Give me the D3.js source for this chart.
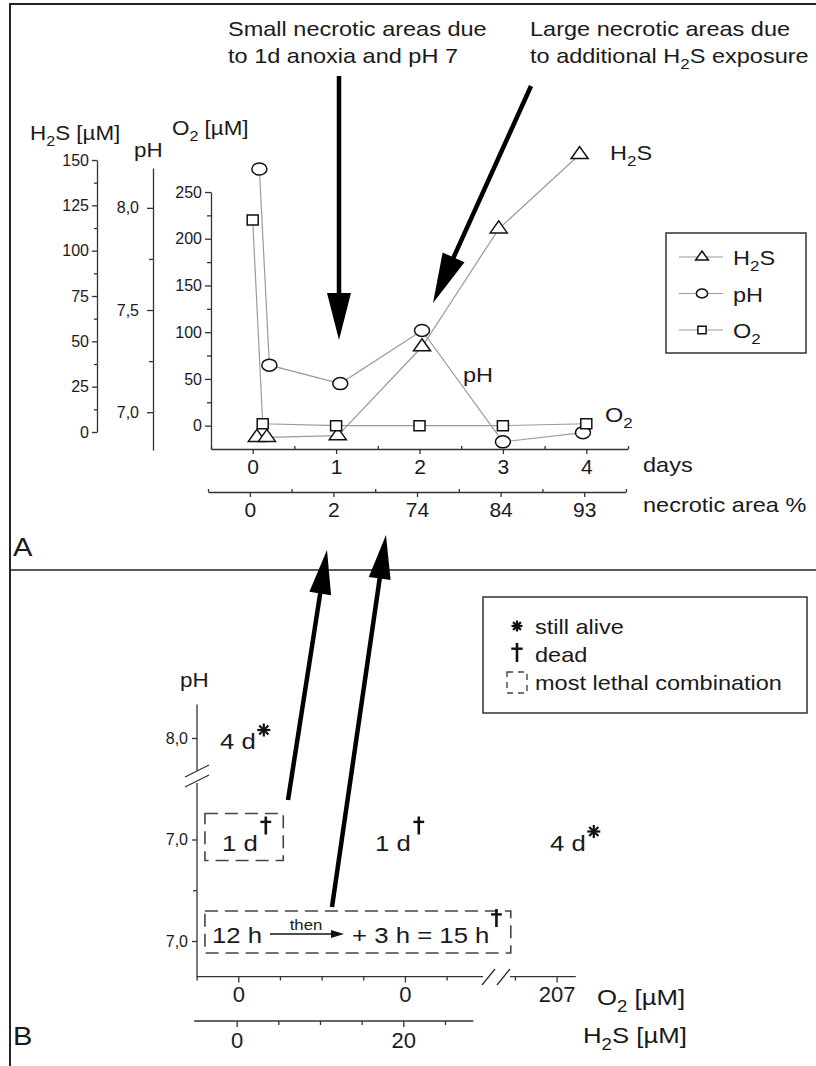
<!DOCTYPE html>
<html>
<head>
<meta charset="utf-8">
<script src="https://cdn.jsdelivr.net/npm/d3@7"></script>
<style>
body { margin: 0; background: #fff; }
svg text { font-family: Arial, "Liberation Sans", Helvetica, sans-serif; fill: #1a1a1a; }
</style>
</head>
<body>
<svg id="fig" width="816" height="1066"></svg>
<script>
/* ---------- panel A data ---------- */
var dayTicks = [0, 1, 2, 3, 4];
var necroticArea = ["0", "2", "74", "84", "93"];

var h2sDays = [0.05, 0.17, 1.02, 2.03, 2.95, 3.92];
var h2sVals = [-3, -3, -2, 47, 112, 153];

var phDays = [0.08, 0.2, 1.05, 2.03, 3.0, 3.96];
var phVals = [8.19, 7.23, 7.14, 7.40, 6.855, 6.90];

var o2Days = [0, 0.12, 1, 2, 3, 4];
var o2Vals = [220, 2, 0, 0, 0, 2];

/* ---------- panel B data ---------- */
var phRows = ["8,0", "7,0", "7,0"];
var o2Labels = ["0", "0", "207"];
var h2sLabels = ["0", "20"];
var colSlot = [0, 20, 38.2];          // column position on the (broken) x axis
var cellRow = [0, 1, 1, 1];
var cellCol = [0, 0, 1, 2];
var cellText = ["4 d", "1 d", "1 d", "4 d"];
var cellMark = ["alive", "dead", "dead", "alive"];

var svg = d3.select("#fig");
var SX = 1.12;   // the figure's lettering is slightly wide
var INK = "#1a1a1a";

function label(parent, x, y, parts, size, anchor, sx) {
    var t = parent.append("text")
        .attr("transform", "translate(" + x + "," + y + ") scale(" + (sx || SX) + ",1)")
        .attr("font-size", size)
        .attr("text-anchor", anchor || "start");
    if (typeof parts === "string") parts = [[parts]];
    var shift = 0;
    parts.forEach(function(p) {
        var ts = t.append("tspan").text(p[0]);
        var want = p[1] === "sub" ? size * 0.3 : 0;
        if (p[1] === "sub") ts.attr("font-size", size * 0.72);
        if (want !== shift) { ts.attr("dy", want - shift); shift = want; }
    });
    return t;
}
function textWidth(t) { return t.node().getComputedTextLength() * SX; }

function styleAxis(g, size) {
    g.attr("font-family", null).attr("font-size", size);
    g.selectAll("path.domain, line").attr("stroke", "#333").attr("stroke-width", 1.3);
    g.selectAll("text").attr("fill", INK);
}

function marker(g, kind, x, y, s) {
    var d;
    if (kind === "tri") d = "M" + x + "," + (y - 8 * s) + "L" + (x + 8.5 * s) + "," + (y + 4 * s) + "L" + (x - 8.5 * s) + "," + (y + 4 * s) + "Z";
    if (kind === "sq") d = "M" + (x - 5.5 * s) + "," + (y - 5 * s) + "h" + (11 * s) + "v" + (10 * s) + "h" + (-11 * s) + "Z";
    if (kind === "circ") {
        g.append("ellipse").attr("cx", x).attr("cy", y).attr("rx", 7.5 * s).attr("ry", 6 * s)
            .attr("fill", "#fff").attr("stroke", "#111").attr("stroke-width", 1.5);
        return;
    }
    g.append("path").attr("d", d).attr("fill", "#fff").attr("stroke", "#111").attr("stroke-width", 1.5);
}

function star(g, cx, cy, r) {
    for (var k = 0; k < 4; k++) {
        var a = k * Math.PI / 4;
        g.append("line")
            .attr("x1", cx - r * Math.cos(a)).attr("y1", cy - r * Math.sin(a))
            .attr("x2", cx + r * Math.cos(a)).attr("y2", cy + r * Math.sin(a))
            .attr("stroke", "#111").attr("stroke-width", 2.2);
    }
}
function dagger(g, cx, top, h) {
    g.append("line").attr("x1", cx).attr("y1", top).attr("x2", cx).attr("y2", top + h)
        .attr("stroke", "#111").attr("stroke-width", 2.6);
    g.append("line").attr("x1", cx - h * 0.3).attr("y1", top + h * 0.3).attr("x2", cx + h * 0.3).attr("y2", top + h * 0.3)
        .attr("stroke", "#111").attr("stroke-width", 2.4);
}

function arrow(x1, y1, x2, y2, len, half, w) {
    var dx = x2 - x1, dy = y2 - y1, L = Math.hypot(dx, dy), ux = dx / L, uy = dy / L;
    var bx = x2 - ux * len, by = y2 - uy * len;
    svg.append("line").attr("x1", x1).attr("y1", y1).attr("x2", bx + ux * 3).attr("y2", by + uy * 3)
        .attr("stroke", "#000").attr("stroke-width", w);
    svg.append("path")
        .attr("d", "M" + x2 + "," + y2 + "L" + (bx - uy * half) + "," + (by + ux * half) + "L" + (bx + uy * half) + "," + (by - ux * half) + "Z")
        .attr("fill", "#000");
}

/* ---------- frame ---------- */
svg.append("path").attr("d", "M10,1066V4H816").attr("fill", "none").attr("stroke", "#222").attr("stroke-width", 2);
svg.append("line").attr("x1", 10).attr("x2", 816).attr("y1", 570).attr("y2", 570).attr("stroke", "#222").attr("stroke-width", 1.6);

/* ================= PANEL A ================= */
var gA = svg.append("g");

var xDays = d3.scaleLinear().domain([-0.5, 4.5]).range([211, 628]);
var xNec = d3.scaleLinear().domain([-0.5, 4.5]).range([208, 626]);
var yO2 = d3.scaleLinear().domain([-25, 250]).range([449, 192]);
var yPH = d3.scaleLinear().domain([6.815, 8.195]).range([450, 168]);
var yH2S = d3.scaleLinear().domain([0, 150]).range([432, 160]);

// H2S axis
gA.append("g").attr("transform", "translate(97,0)")
    .call(d3.axisLeft(yH2S).tickValues(d3.range(0, 151, 25)).tickSize(5).tickSizeOuter(0).tickPadding(3))
    .call(styleAxis, 16);
gA.append("g").attr("transform", "translate(97,0)")
    .call(d3.axisLeft(yH2S).tickValues(d3.range(12.5, 150, 25)).tickSize(3).tickFormat(""))
    .call(function(g) { g.select(".domain").remove(); })
    .call(styleAxis, 16);

// pH axis
gA.append("g").attr("transform", "translate(153,0)")
    .call(d3.axisLeft(yPH).tickValues([7.0, 7.5, 8.0]).tickSize(6).tickSizeOuter(0).tickPadding(8)
        .tickFormat(function(d) { return d3.format(".1f")(d).replace(".", ","); }))
    .call(styleAxis, 16);
gA.append("g").attr("transform", "translate(153,0)")
    .call(d3.axisLeft(yPH).tickValues([7.25, 7.75]).tickSize(4).tickFormat(""))
    .call(function(g) { g.select(".domain").remove(); })
    .call(styleAxis, 16);

// O2 axis
gA.append("g").attr("transform", "translate(211,0)")
    .call(d3.axisLeft(yO2).tickValues(d3.range(0, 251, 50)).tickSize(6).tickSizeOuter(0).tickPadding(3))
    .call(styleAxis, 16);
gA.append("g").attr("transform", "translate(211,0)")
    .call(d3.axisLeft(yO2).tickValues(d3.range(25, 250, 50)).tickSize(4).tickFormat(""))
    .call(function(g) { g.select(".domain").remove(); })
    .call(styleAxis, 16);

// days axis
gA.append("g").attr("transform", "translate(0,449)")
    .call(d3.axisBottom(xDays).tickValues(dayTicks).tickSize(5).tickSizeOuter(0).tickPadding(5)
        .tickFormat(d3.format("d")))
    .call(styleAxis, 21);
gA.append("g").attr("transform", "translate(0,449)")
    .call(d3.axisTop(xDays).tickValues(d3.range(-0.5, 4.6, 1)).tickSize(3).tickFormat(""))
    .call(function(g) { g.select(".domain").remove(); })
    .call(styleAxis, 21);

// necrotic area axis
gA.append("g").attr("transform", "translate(0,492)")
    .call(d3.axisBottom(xNec).tickValues(dayTicks).tickSize(5).tickSizeOuter(0).tickPadding(5)
        .tickFormat(function(i) { return necroticArea[i]; }))
    .call(styleAxis, 21);
gA.append("g").attr("transform", "translate(0,492)")
    .call(d3.axisTop(xNec).tickValues(d3.range(-0.5, 4.6, 1)).tickSize(3).tickFormat(""))
    .call(function(g) { g.select(".domain").remove(); })
    .call(styleAxis, 21);

// axis titles
label(gA, 30, 140, [["H"], ["2", "sub"], ["S [µM]"]], 20);
label(gA, 134, 157, "pH", 20);
label(gA, 172, 135, [["O"], ["2", "sub"], [" [µM]"]], 20);
label(gA, 643, 472, "days", 21);
label(gA, 643, 512, "necrotic area %", 21);

// series
var series = [
    { name: "H2S", days: h2sDays, vals: h2sVals, y: yH2S, kind: "tri" },
    { name: "pH", days: phDays, vals: phVals, y: yPH, kind: "circ" },
    { name: "O2", days: o2Days, vals: o2Vals, y: yO2, kind: "sq" }
];
series.forEach(function(s) {
    var pts = s.days.map(function(d, i) { return [xDays(d), s.y(s.vals[i])]; });
    gA.append("path").attr("d", d3.line()(pts))
        .attr("fill", "none").attr("stroke", "#9a9a9a").attr("stroke-width", 1.2);
});
series.forEach(function(s) {
    s.days.forEach(function(d, i) { marker(gA, s.kind, xDays(d), s.y(s.vals[i]), 1); });
});

// direct labels
label(gA, 610, 160, [["H"], ["2", "sub"], ["S"]], 21);
label(gA, 463, 382, "pH", 21);
label(gA, 605, 422, [["O"], ["2", "sub"]], 21);

// legend A
gA.append("rect").attr("x", 666).attr("y", 233).attr("width", 140).attr("height", 120)
    .attr("fill", "#fff").attr("stroke", "#333").attr("stroke-width", 1.5);
var legNames = [[["H"], ["2", "sub"], ["S"]], [["pH"]], [["O"], ["2", "sub"]]];
series.forEach(function(s, i) {
    var ly = 257 + i * 36.5;
    gA.append("line").attr("x1", 679).attr("x2", 723).attr("y1", ly).attr("y2", ly)
        .attr("stroke", "#9a9a9a").attr("stroke-width", 1.2);
    marker(gA, s.kind, 702, ly, 0.75);
    label(gA, 733, ly + 8, legNames[i], 21);
});

// annotations
label(svg, 228, 36, "Small necrotic areas due", 21);
label(svg, 228, 63, "to 1d anoxia and pH 7", 21);
label(svg, 530, 36, "Large necrotic areas due", 21);
label(svg, 530, 63, [["to additional H"], ["2", "sub"], ["S exposure"]], 21);
arrow(339, 76, 339, 340, 47, 12, 4.5);
arrow(531, 86, 433, 303, 50, 12, 4.5);

label(svg, 13, 556, "A", 26);

/* ================= PANEL B ================= */
var gB = svg.append("g");
var yB = d3.scaleLinear().domain([0, 2]).range([738, 941]);
var xB = d3.scaleLinear().domain([-5, 40]).range([196.6, 571.6]);
var xBh = d3.scaleLinear().domain([-5, 40]).range([195, 570]);

// pH axis (broken)
gB.append("g").attr("transform", "translate(197,0)")
    .call(d3.axisLeft(yB).tickValues([0, 1, 2]).tickSize(5).tickPadding(4)
        .tickFormat(function(i) { return phRows[i]; }))
    .call(function(g) { g.select(".domain").remove(); })
    .call(styleAxis, 16);
gB.append("g").attr("transform", "translate(197,0)")
    .call(d3.axisLeft(yB).tickValues([1.5]).tickSize(4).tickFormat(""))
    .call(function(g) { g.select(".domain").remove(); })
    .call(styleAxis, 16);
gB.append("path").attr("d", "M197," + yB(-0.33) + "V771M197,783V" + yB(2.35))
    .attr("stroke", "#333").attr("stroke-width", 1.3).attr("fill", "none");
gB.append("path").attr("d", "M185,777L209,765M185,787L209,775")
    .attr("stroke", "#333").attr("stroke-width", 1.3);
label(gB, 180, 687, "pH", 20);

// O2 axis (broken)
var o2Ticks = [colSlot[0], colSlot[1], colSlot[2]];
gB.append("g").attr("transform", "translate(0," + yB(2.35) + ")")
    .call(d3.axisBottom(xB).tickValues(o2Ticks).tickSize(6).tickPadding(4)
        .tickFormat(function(d, i) { return o2Labels[i]; }))
    .call(function(g) { g.select(".domain").remove(); })
    .call(styleAxis, 22);
gB.append("g").attr("transform", "translate(0," + yB(2.35) + ")")
    .call(d3.axisBottom(xB).tickValues([-5, 5, 10, 15, 25, 33.2]).tickSize(4).tickFormat(""))
    .call(function(g) { g.select(".domain").remove(); })
    .call(styleAxis, 22);
gB.append("path").attr("d", "M" + xB(-5) + "," + yB(2.35) + "H483M510," + yB(2.35) + "H" + xB(40.5))
    .attr("stroke", "#333").attr("stroke-width", 1.3).attr("fill", "none");
gB.append("path").attr("d", "M482,985L495,969M497,985L510,969")
    .attr("stroke", "#333").attr("stroke-width", 1.3);
label(gB, 597, 1005, [["O"], ["2", "sub"], [" [µM]"]], 23);

// H2S axis
gB.append("g").attr("transform", "translate(0,1021)")
    .call(d3.axisBottom(xBh).tickValues([0, 20]).tickSize(6).tickPadding(5)
        .tickFormat(function(d, i) { return h2sLabels[i]; }))
    .call(function(g) { g.select(".domain").remove(); })
    .call(styleAxis, 22);
gB.append("g").attr("transform", "translate(0,1021)")
    .call(d3.axisBottom(xBh).tickValues([5, 10, 15, 25]).tickSize(4).tickFormat(""))
    .call(function(g) { g.select(".domain").remove(); })
    .call(styleAxis, 22);
gB.append("line").attr("x1", xBh(-5.1)).attr("x2", xBh(28.4)).attr("y1", 1021).attr("y2", 1021)
    .attr("stroke", "#333").attr("stroke-width", 1.3);
label(gB, 583, 1043, [["H"], ["2", "sub"], ["S [µM]"]], 23);

// most-lethal boxes
function dashBox(x0, y0, x1, y1) {
    gB.append("rect").attr("x", x0).attr("y", y0).attr("width", x1 - x0).attr("height", y1 - y0)
        .attr("fill", "none").attr("stroke", "#444").attr("stroke-width", 1.6).attr("stroke-dasharray", "13,7");
}
dashBox(xB(-4), yB(1) - 26, xB(5.4), yB(1) + 21);
dashBox(xB(-4), yB(2) - 30, xB(32.7), yB(2) + 12);

// cells
var cellX = [220, 222, 375, 550];
cellText.forEach(function(s, i) {
    var by = yB(cellRow[i]) + 11;
    var t = label(gB, cellX[i], by, s, 23);
    var end = cellX[i] + textWidth(t);
    if (cellMark[i] === "alive") star(gB, end + 8, by - 19, 6.5);
    else dagger(gB, end + 8, by - 34, 18);
});

// 12 h then + 3 h = 15 h
var rb = yB(2) + 2;
label(gB, 212, rb, "12 h", 23);
label(gB, 306, rb - 13, "then", 15, "middle");
gB.append("line").attr("x1", 270).attr("x2", 333).attr("y1", rb - 9).attr("y2", rb - 9)
    .attr("stroke", "#111").attr("stroke-width", 1.3);
gB.append("path").attr("d", "M344," + (rb - 9) + "L331," + (rb - 13) + "L331," + (rb - 5) + "Z").attr("fill", "#111");
var t15 = label(gB, 352, rb, "+ 3 h = 15 h", 23);
dagger(gB, 352 + textWidth(t15) + 7, rb - 34, 18);

// legend B
gB.append("rect").attr("x", 483).attr("y", 597).attr("width", 324).attr("height", 116)
    .attr("fill", "#fff").attr("stroke", "#333").attr("stroke-width", 1.5);
star(gB, 517, 626, 5.5);
label(gB, 535, 634, "still alive", 21);
dagger(gB, 517, 643, 19);
label(gB, 535, 662, "dead", 21);
gB.append("rect").attr("x", 507).attr("y", 672).attr("width", 20).attr("height", 21)
    .attr("fill", "none").attr("stroke", "#444").attr("stroke-width", 1.4).attr("stroke-dasharray", "6,5");
label(gB, 535, 690, "most lethal combination", 21);

// arrows from B to A
arrow(288, 800, 327, 550, 44, 11, 4.5);
arrow(332, 907, 386, 535, 44, 11, 4.5);

label(svg, 13, 1045, "B", 26);
</script>
</body>
</html>
